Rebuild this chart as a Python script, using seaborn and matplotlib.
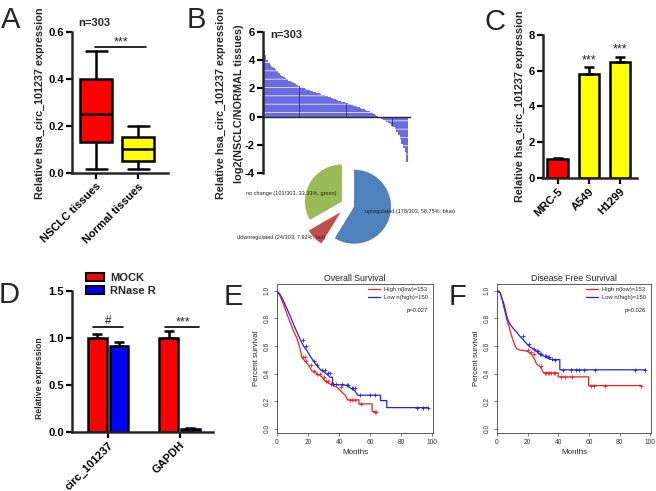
import numpy as np
import pandas as pd
import matplotlib
matplotlib.use("Agg")
import matplotlib.pyplot as plt
import seaborn as sns
from matplotlib.patches import Patch
from matplotlib.lines import Line2D

sns.set_style("ticks")
plt.rcParams["font.family"] = ["Liberation Sans", "DejaVu Sans"]
plt.rcParams["hatch.color"] = "#9c9cef"
plt.rcParams["hatch.linewidth"] = 0.5

W, H = 656, 491

# ---------------- data ----------------
# A: box plot summary
box_groups = ["NSCLC tissues", "Normal tissues"]
box_whislo = [0.015, 0.015]
box_q1 = [0.13, 0.05]
box_med = [0.25, 0.10]
box_q3 = [0.40, 0.155]
box_whishi = [0.52, 0.20]
box_colors = ["red", "yellow"]

# B: waterfall of log2(NSCLC/NORMAL), sorted
waterfall = [4.70, 4.35, 4.00, 3.80, 3.65, 3.55, 3.45, 3.37, 3.22, 3.08,
             2.98, 2.90, 2.82, 2.74, 2.65, 2.56, 2.49, 2.43, 2.37, 2.31,
             2.25, 2.19, 2.13, 2.08, 2.02, 1.96, 1.92, 1.89, 1.84, 1.79,
             1.75, 1.72, 1.68, 1.65, 1.60, 1.56, 1.52, 1.49, 1.45, 1.42,
             1.37, 1.32, 1.27, 1.23, 1.18, 1.13, 1.10, 1.06, 1.02, 0.99,
             0.94, 0.90, 0.86, 0.83, 0.78, 0.73, 0.70, 0.66, 0.61, 0.57,
             0.52, 0.47, 0.42, 0.38, 0.33, 0.28, 0.21, 0.14, 0.06, -0.02,
             -0.07, -0.17, -0.25, -0.33, -0.39, -0.45, -0.54, -0.64, -0.75, -0.87,
             -1.10, -1.34, -1.58, -1.93, -2.20, -2.50, -3.20]
waterfall_marked = [21, 49, 77]
pie_labels = ["no change (101/303, 33.33%, green)",
              "downregulated (24/303, 7.92%, red)",
              "upregulated (178/303, 58.75%, blue)"]
pie_counts = [101, 24, 178]
pie_colors = ["#9BBB59", "#C0504D", "#4F81BD"]

# C: cell lines
cell_lines = ["MRC-5", "A549", "H1299"]
cell_expr = [1.08, 5.80, 6.48]
cell_err = [0.03, 0.40, 0.30]
cell_colors = ["red", "yellow", "yellow"]

# D: RNase R
genes = ["circ_101237", "GAPDH"]
treatments = ["MOCK", "RNase R"]
mock_expr = [1.00, 1.00]
mock_err = [0.04, 0.07]
rnase_expr = [0.915, 0.03]
rnase_err = [0.04, 0.01]

# E: overall survival (months, survival)
os_high_t = [0, 2.1, 4.3, 6.4, 8.6, 10.7, 12.9, 15, 16, 18.2, 20.4, 22.5, 25.7, 28.9,
             31, 34.3, 38.6, 41.2, 44, 45.4, 52.8, 52.8, 61.3, 61.3, 63.9]
os_high_s = [1.0, 0.96, 0.90, 0.833, 0.768, 0.708, 0.655, 0.575, 0.52, 0.49, 0.46, 0.42,
             0.40, 0.377, 0.345, 0.326, 0.302, 0.273, 0.244, 0.21, 0.21, 0.181, 0.181,
             0.125, 0.125]
os_low_t = [0, 2.1, 4.3, 6.4, 8.6, 10.7, 12.9, 15, 17.1, 19.3, 21.4, 23.6, 25.7, 27.9,
            31.1, 34.3, 35.8, 35.8, 45, 47.2, 50.4, 51.9, 66.7, 66.7, 70.7, 70.7, 97.5]
os_low_s = [1.0, 0.973, 0.925, 0.87, 0.816, 0.756, 0.70, 0.647, 0.60, 0.568, 0.527, 0.49,
            0.46, 0.43, 0.406, 0.374, 0.374, 0.322, 0.316, 0.297, 0.273, 0.244, 0.244,
            0.205, 0.205, 0.154, 0.154]
os_high_cens = [16.5, 18, 19, 22, 24, 26, 28, 30, 31.5, 33, 35, 36, 41, 47, 48, 50, 54, 63, 64]
os_low_cens = [17, 18.5, 24, 26, 29, 31, 33, 34, 36, 38, 42, 45, 46, 48, 49, 50, 53.6, 60,
               63, 90, 94.3, 97]

# F: disease free survival
dfs_high_t = [0, 1.7, 3.2, 4.3, 5.4, 6.4, 7.5, 8.6, 9.6, 10.7, 11.8, 12.9, 15, 18.2, 20.4,
              22.5, 24.7, 25.7, 27.9, 29.6, 30.4, 39.9, 39.9, 59.8, 59.8, 94.3]
dfs_high_s = [1.0, 0.998, 0.947, 0.889, 0.84, 0.792, 0.756, 0.708, 0.671, 0.635, 0.60, 0.582,
              0.57, 0.568, 0.558, 0.539, 0.502, 0.471, 0.454, 0.423, 0.406, 0.406, 0.377,
              0.377, 0.314, 0.314]
dfs_low_t = [0, 2.1, 3.2, 4.3, 5.4, 6.4, 7.5, 8.6, 10.7, 12.9, 15, 17.1, 19.3, 21.4, 23.6,
             25.7, 27.9, 30, 32.2, 34.3, 36.4, 41, 41, 96.5]
dfs_low_s = [1.0, 0.985, 0.947, 0.913, 0.865, 0.816, 0.78, 0.756, 0.727, 0.70, 0.67, 0.647,
             0.618, 0.594, 0.58, 0.563, 0.543, 0.531, 0.519, 0.507, 0.502, 0.502, 0.428, 0.428]
dfs_high_cens = [20, 22, 24, 29, 31, 32, 33, 34, 35, 37, 38, 41.8, 44.6, 48.9, 61.1, 63.2,
                 70.7, 94.3]
dfs_low_cens = [17, 21, 24, 26, 27, 28, 29, 31, 32, 33, 34, 36, 38, 42.9, 48.2, 51.4, 53.2,
                56.8, 63.9, 90, 96.5]

# ---------------- helpers ----------------
fig = plt.figure(figsize=(W / 100, H / 100), dpi=100)


def add_ax(l, t, r, b):
    return fig.add_axes([l / W, 1 - b / H, (r - l) / W, (b - t) / H])


def ftext(x, y, s, **kw):
    fig.text(x / W, 1 - y / H, s, **kw)


def prism(ax, yticks, yfmt, xlabels=None):
    sns.despine(ax=ax)
    ax.spines["left"].set_linewidth(1.8)
    ax.spines["bottom"].set_linewidth(1.8)
    ax.tick_params(axis="both", width=1.6, length=4, pad=2, labelsize=8, colors="black")
    ax.set_yticks(yticks, labels=[yfmt.format(v) for v in yticks], fontweight="bold")
    if xlabels is None:
        ax.set_xticks([])
    else:
        ax.set_xticks(range(len(xlabels)), labels=xlabels, fontweight="bold",
                      rotation=45, ha="right", rotation_mode="anchor")
    ax.set_xlabel("")
    ax.set_ylabel("")


YLAB = "Relative hsa_circ_101237 expression"

# ---------------- A ----------------
axA = add_ax(72, 32, 168, 173)
stats = [dict(label=g, whislo=a, q1=b, med=c, q3=d, whishi=e, fliers=[])
         for g, a, b, c, d, e in zip(box_groups, box_whislo, box_q1, box_med, box_q3, box_whishi)]
bp = axA.bxp(stats, positions=[0, 1], widths=0.76, capwidths=0.5, patch_artist=True,
             showfliers=False,
             boxprops=dict(linewidth=1.8, edgecolor="black"),
             medianprops=dict(color="black", linewidth=1.8),
             whiskerprops=dict(color="black", linewidth=1.8),
             capprops=dict(color="black", linewidth=1.8))
for patch, c in zip(bp["boxes"], box_colors):
    patch.set_facecolor(c)
axA.set_xlim(-0.57, 1.7)
axA.set_ylim(0, 0.6)
prism(axA, [0, 0.2, 0.4, 0.6], "{:.1f}", box_groups)
axA.plot([-0.02, 1.19], [0.535, 0.535], color="black", lw=1.2, clip_on=False)
axA.text(0.6, 0.532, "***", ha="center", va="bottom", fontsize=9)
ftext(94, 23, "n=303", ha="center", va="center", fontweight="bold", fontsize=8)
ftext(40, 103, YLAB, rotation=90, ha="center", va="center", fontweight="bold", fontsize=7.8)

# ---------------- B ----------------
axB = add_ax(263, 32, 410, 173)
idx = np.arange(len(waterfall))
axB.bar(idx, waterfall, width=1.0, color="#6c6ce2", linewidth=0, hatch="--")
axB.vlines([idx[i] for i in waterfall_marked], 0, [waterfall[i] for i in waterfall_marked],
           color="#30307a", lw=0.6)
axB.set_xlim(-0.5, 87.7)
axB.set_ylim(-4, 6)
prism(axB, [-4, -2, 0, 2, 4, 6], "{:d}")
axB.spines["bottom"].set_position(("data", 0))
axB.spines["bottom"].set_linewidth(1.0)
ftext(286, 35, "n=303", ha="center", va="center", fontweight="bold", fontsize=8)
ftext(221, 103, YLAB, rotation=90, ha="center", va="center", fontweight="bold", fontsize=7.8)
ftext(239, 104, "log2(NSCLC/NORMAL tissues)", rotation=90, ha="center",
      va="center", fontweight="bold", fontsize=7.8)

# pie inset
axP = add_ax(298, 155, 398, 255)
axP.pie(pie_counts, colors=pie_colors, startangle=90, counterclock=True,
        explode=[0.19, 0.27, 0.17], radius=1, wedgeprops=dict(linewidth=0))
axP.set_xlim(-50 / 37, 50 / 37)
axP.set_ylim(-50 / 37, 50 / 37)
axP.set_aspect("equal")
axP.axis("off")
ftext(337, 193, pie_labels[0], ha="right", va="center", fontsize=4, color="#222222")
ftext(325, 237, pie_labels[1], ha="right", va="center", fontsize=4, color="#222222")
ftext(365, 212, pie_labels[2], ha="left", va="center", fontsize=4, color="#222222")

# ---------------- C ----------------
axC = add_ax(543, 35, 637, 178)
sns.barplot(x=cell_lines, y=cell_expr, hue=cell_lines, palette=cell_colors, legend=False,
            width=0.65, saturation=1, edgecolor="black", linewidth=1.8, ax=axC)
axC.errorbar(range(len(cell_lines)), cell_expr, yerr=[[0] * 3, cell_err], fmt="none",
             ecolor="black", elinewidth=1.8, capsize=3.5, capthick=1.8)
axC.set_xlim(-0.47, 2.56)
axC.set_ylim(0, 8)
prism(axC, [0, 2, 4, 6, 8], "{:d}", cell_lines)
for i in (1, 2):
    axC.text(i, cell_expr[i] + cell_err[i] + 0.05, "***", ha="center", va="bottom", fontsize=9)
ftext(520, 106, YLAB, rotation=90, ha="center", va="center", fontweight="bold", fontsize=7.8)

# ---------------- D ----------------
axD = add_ax(72, 291, 213, 432)
dfD = pd.DataFrame({"gene": genes * 2,
                    "group": [treatments[0]] * 2 + [treatments[1]] * 2,
                    "value": mock_expr + rnase_expr})
palD = {"MOCK": "red", "RNase R": "blue"}
sns.barplot(data=dfD, x="gene", y="value", hue="group", palette=palD, width=0.61, gap=0.15,
            saturation=1, edgecolor="black", linewidth=1.8, legend=False, errorbar=None, ax=axD)
for cont, errs in zip(axD.containers, [mock_err, rnase_err]):
    xs = [b.get_x() + b.get_width() / 2 for b in cont]
    ys = [b.get_height() for b in cont]
    axD.errorbar(xs, ys, yerr=[[0] * len(errs), errs], fmt="none", ecolor="black",
                 elinewidth=1.8, capsize=3.5, capthick=1.8)
axD.set_xlim(-0.51, 1.47)
axD.set_ylim(0, 1.5)
prism(axD, [0, 0.5, 1.0, 1.5], "{:.1f}", genes)
axD.plot([-0.21, 0.21], [1.114, 1.114], color="black", lw=1.2)
axD.text(0, 1.118, "#", ha="center", va="bottom", fontsize=8.5)
axD.plot([0.79, 1.28], [1.114, 1.114], color="black", lw=1.2)
axD.text(1.05, 1.105, "***", ha="center", va="bottom", fontsize=9)
handles = [Patch(facecolor=palD[t], edgecolor="black", linewidth=1.5) for t in treatments]
fig.legend(handles, treatments, loc="upper left", bbox_to_anchor=(86 / W, 1 - 273 / H),
           frameon=False, prop=dict(weight="bold", size=8), handlelength=1.6,
           handleheight=0.75, handletextpad=0.55, labelspacing=0.25, borderpad=0,
           borderaxespad=0)
ftext(40, 378, "Relative expression", rotation=90, ha="center", va="center",
      fontweight="bold", fontsize=6.2)


# ---------------- E / F ----------------
def surv_panel(ax, title, hi_t, hi_s, lo_t, lo_s, hi_c, lo_c, pval):
    for t, s, c, cens in [(hi_t, hi_s, "#ee2222", hi_c), (lo_t, lo_s, "#2222ee", lo_c)]:
        sns.lineplot(x=t, y=s, sort=False, estimator=None, color=c, lw=0.9, ax=ax)
        tt = np.array(t)
        ss = np.array(s)
        cy = [ss[np.searchsorted(tt, v, side="right") - 1] for v in cens]
        ax.plot(cens, cy, ls="none", marker="+", ms=3.2, mew=0.6, color=c)
    ax.set_xlim(0, 100.5)
    ax.set_ylim(-0.03, 1.05)
    ax.set_xticks([0, 20, 40, 60, 80, 100])
    ax.set_yticks([0, 0.2, 0.4, 0.6, 0.8, 1.0], labels=["0.0", "0.2", "0.4", "0.6", "0.8", "1.0"])
    for lab in ax.get_yticklabels():
        lab.set_rotation(90)
        lab.set_va("center")
    for sp in ax.spines.values():
        sp.set_linewidth(0.6)
        sp.set_color("#444444")
    ax.tick_params(axis="both", length=2.5, width=0.5, pad=2, labelsize=4.8,
                   colors="#444444", labelcolor="#333333")
    ax.set_title(title, fontsize=6.3, pad=2, color="#222222")
    ax.set_xlabel("Months", fontsize=5.8, labelpad=2, color="#222222")
    ax.set_ylabel("Percent survival", fontsize=5.6, labelpad=3, color="#222222")
    lh = [Line2D([], [], color="#ee2222", lw=0.9), Line2D([], [], color="#2222ee", lw=0.9)]
    ax.legend(lh, ["High n(low)=153", "Low n(high)=150"], loc="upper right",
              bbox_to_anchor=(0.975, 0.985), frameon=False, fontsize=4.2,
              handlelength=2.1, handletextpad=0.6, labelspacing=0.35, borderpad=0.2,
              borderaxespad=0)
    ax.text(0.965, 0.82, pval, transform=ax.transAxes, ha="right", va="center",
            fontsize=4.2, color="#222222")


axE = add_ax(277, 284, 433, 433)
surv_panel(axE, "Overall Survival", os_high_t, os_high_s, os_low_t, os_low_s,
           os_high_cens, os_low_cens, "p=0.027")
axF = add_ax(497, 284, 651, 433)
surv_panel(axF, "Disease Free Survival", dfs_high_t, dfs_high_s, dfs_low_t, dfs_low_s,
           dfs_high_cens, dfs_low_cens, "p=0.026")

# panel letters
for letter, x, y in [("A", 1, 28), ("B", 187, 28), ("C", 484, 30),
                     ("D", -1, 303), ("E", 224, 305), ("F", 449, 305)]:
    ftext(x, y, letter, ha="left", va="baseline", fontsize=21)

fig.savefig("out.png", dpi=100)
